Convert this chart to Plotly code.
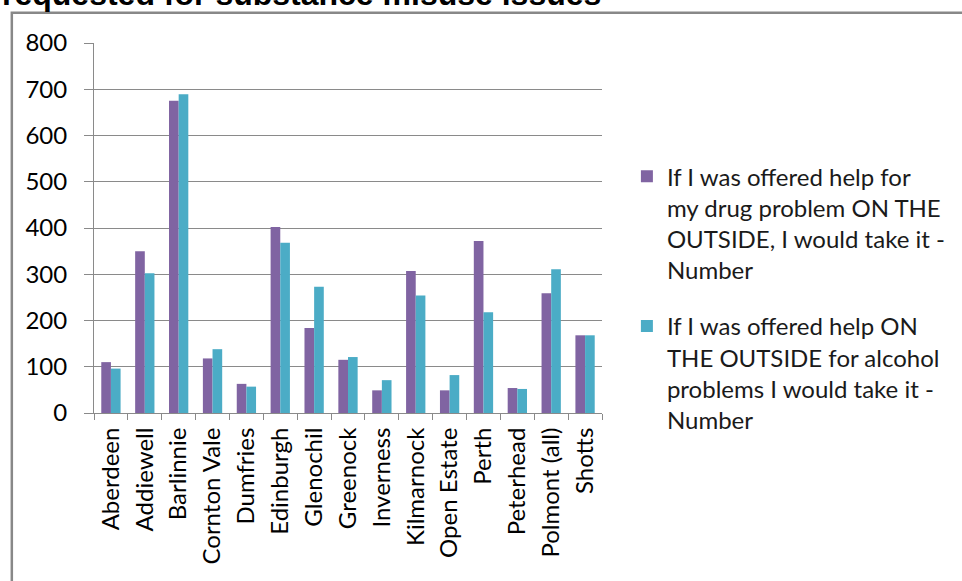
import plotly.graph_objects as go

# Establishments and responses (number of prisoners)
prisons = ["Aberdeen", "Addiewell", "Barlinnie", "Cornton Vale", "Dumfries",
           "Edinburgh", "Glenochil", "Greenock", "Inverness", "Kilmarnock",
           "Open Estate", "Perth", "Peterhead", "Polmont (all)", "Shotts"]
drug_help = [110, 350, 675, 118, 63, 402, 184, 115, 49, 307, 49, 372, 54, 259, 168]
alcohol_help = [96, 302, 689, 138, 57, 368, 273, 121, 71, 254, 82, 218, 52, 311, 168]

drug_name = ("If I was offered help for<br>my drug problem ON THE<br>"
             "OUTSIDE, I would take it -<br>Number")
alcohol_name = ("If I was offered help ON<br>THE OUTSIDE for alcohol<br>"
                "problems I would take it -<br>Number")

y_ticks = [0, 100, 200, 300, 400, 500, 600, 700, 800]

WIDTH, HEIGHT = 962, 581
L, R, T, B = 94, 358, 42.7, 168
PW, PH = WIDTH - L - R, HEIGHT - T - B


def px_x(p):
    return (p - L) / PW


def px_y(p):
    return (HEIGHT - B - p) / PH


FONT = "Lato, 'Open Sans', sans-serif"
GRID = "#8a8a8a"
TXT = 24

fig = go.Figure()
fig.add_trace(go.Bar(x=prisons, y=drug_help, name=drug_name, legendgroup="drug",
                     marker=dict(color="#8064A2", line=dict(width=0))))
fig.add_trace(go.Bar(x=prisons, y=alcohol_help, name=alcohol_name,
                     legendgroup="alcohol",
                     marker=dict(color="#4BACC6", line=dict(width=0))))

fig.update_layout(
    width=WIDTH, height=HEIGHT,
    margin=dict(l=L, r=R, t=T, b=B, pad=0),
    paper_bgcolor="white", plot_bgcolor="white",
    barmode="group", bargap=0.43, bargroupgap=0,
    font=dict(family=FONT, size=TXT, color="#000000"),
    showlegend=True,
    legend=dict(x=px_x(629), y=px_y(154), xanchor="left", yanchor="top",
                font=dict(family=FONT, size=TXT, color="#1a1a1a"),
                tracegroupgap=22, valign="top",
                bgcolor="rgba(0,0,0,0)"),
    xaxis=dict(
        type="category", showgrid=False, showline=True, linecolor=GRID,
        linewidth=1, ticks="outside", ticklen=6, tickcolor=GRID,
        tickson="boundaries", tickangle=-90,
        tickfont=dict(family=FONT, size=TXT, color="#000000"),
        ticklabelstandoff=4,
    ),
    yaxis=dict(
        range=[0, 800], tickvals=y_ticks, showgrid=True, gridcolor=GRID,
        gridwidth=1, showline=True, linecolor=GRID, linewidth=1,
        ticks="outside", ticklen=9, tickcolor=GRID, zeroline=False,
        tickfont=dict(family=FONT, size=TXT, color="#000000"),
        ticklabelstandoff=12,
    ),
)

# Outer chart frame
fig.add_shape(type="rect", xref="paper", yref="paper",
              x0=px_x(11.5), x1=px_x(990), y0=px_y(620), y1=px_y(12.5),
              line=dict(color="#888888", width=2.5), layer="below")

# Heading text running off the top edge
fig.add_annotation(text="<b>requested for substance misuse issues</b>",
                   xref="paper", yref="paper", x=px_x(0), y=px_y(13.5),
                   xanchor="left", yanchor="bottom", showarrow=False,
                   font=dict(family="Liberation Sans, Arial, sans-serif",
                             size=32, color="#000000"))

fig.write_html("out.html")
